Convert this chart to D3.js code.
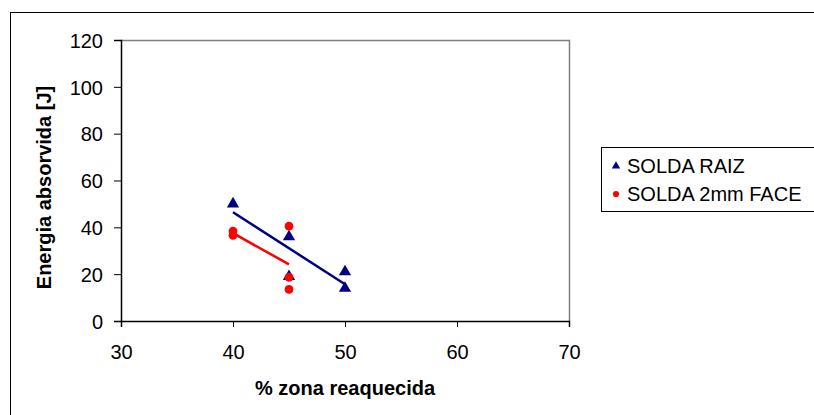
<!DOCTYPE html>
<html>
<head>
<meta charset="utf-8">
<script src="https://cdn.jsdelivr.net/npm/d3@7"></script>
<style>
  body { margin: 0; background: #fff; }
  svg { font-family: "Liberation Sans", Arial, sans-serif; }
</style>
</head>
<body>
<svg class="chart"></svg>
<script>
// data
var raizX = [40, 45, 45, 50, 50];
var raizY = [50, 36, 19, 21, 14];
var faceX = [40, 40, 45, 45, 45];
var faceY = [38.4, 36.6, 40.5, 18.6, 13.5];
var xTicks = [30, 40, 50, 60, 70];
var yTicks = [0, 20, 40, 60, 80, 100, 120];
var seriesNames = ["SOLDA RAIZ", "SOLDA 2mm FACE"];

var W = 814, H = 415;
var plot = { left: 121, top: 40, right: 569, bottom: 321 };

var svg = d3.select(".chart").attr("width", W).attr("height", H);

// outer chart frame
svg.append("rect")
    .attr("x", 10.5).attr("y", 12.5)
    .attr("width", W).attr("height", H)
    .attr("fill", "#fff").attr("stroke", "#000").attr("stroke-width", 1);

var x = d3.scaleLinear().domain([30, 70]).range([plot.left, plot.right]);
var y = d3.scaleLinear().domain([0, 120]).range([plot.bottom, plot.top]);

// plot area border (grey top/right)
svg.append("path")
    .attr("d", "M" + plot.left + "," + (plot.top + 0.5) + "H" + (plot.right + 0.5) + "V" + plot.bottom)
    .attr("fill", "none").attr("stroke", "#808080").attr("stroke-width", 1.5);

var xAxis = svg.append("g")
    .attr("transform", "translate(0," + plot.bottom + ")")
    .call(d3.axisBottom(x).tickValues(xTicks).tickSize(6).tickPadding(32));
var yAxis = svg.append("g")
    .attr("transform", "translate(" + plot.left + ",0)")
    .call(d3.axisLeft(y).tickValues(yTicks).tickSize(7).tickPadding(11));

[xAxis, yAxis].forEach(function (a) {
    a.select(".domain").attr("stroke", "#000").attr("stroke-width", 1.5);
    a.selectAll(".tick line").attr("stroke", "#000");
    a.selectAll(".tick text")
        .attr("font-size", 20).attr("fill", "#000")
        .style("font-family", "'Liberation Sans', Arial, sans-serif");
});
xAxis.selectAll(".tick text").attr("dy", "0");
yAxis.selectAll(".tick text").attr("dy", "0.36em");

// axis titles
svg.append("text")
    .attr("x", 345).attr("y", 395)
    .attr("text-anchor", "middle")
    .attr("font-size", 20).attr("font-weight", "bold")
    .text("% zona reaquecida");
svg.append("text")
    .attr("transform", "translate(51," + ((plot.top + plot.bottom) / 2 + 7) + ") rotate(-90)")
    .attr("text-anchor", "middle")
    .attr("font-size", 20).attr("font-weight", "bold")
    .text("Energia absorvida [J]");

// linear trend line (least squares, like the spreadsheet trendline)
function fit(xs, ys) {
    var mx = d3.mean(xs), my = d3.mean(ys);
    var sxy = d3.sum(xs, function (v, i) { return (v - mx) * (ys[i] - my); });
    var sxx = d3.sum(xs, function (v) { return (v - mx) * (v - mx); });
    var b = sxy / sxx;
    var x0 = d3.min(xs), x1 = d3.max(xs);
    return [[x0, my + b * (x0 - mx)], [x1, my + b * (x1 - mx)]];
}

var line = d3.line().x(function (d) { return x(d[0]); }).y(function (d) { return y(d[1]); });

var series = [
    { xs: raizX, ys: raizY, color: "#000080", shape: d3.symbolTriangle, size: 65 },
    { xs: faceX, ys: faceY, color: "#ff0000", shape: d3.symbolCircle, size: 60 }
];

series.forEach(function (s) {
    svg.append("path")
        .attr("d", line(fit(s.xs, s.ys)))
        .attr("fill", "none").attr("stroke", s.color).attr("stroke-width", 2.5);
});

series.forEach(function (s) {
    var sym = d3.symbol().type(s.shape).size(s.size);
    svg.selectAll(null).data(s.xs).enter().append("path")
        .attr("d", sym)
        .attr("transform", function (d, i) { return "translate(" + x(d) + "," + y(s.ys[i]) + ")"; })
        .attr("fill", s.color);
});

// legend
var lg = svg.append("g");
lg.append("rect")
    .attr("x", 601.5).attr("y", 147.5).attr("width", 240).attr("height", 64)
    .attr("fill", "#fff").attr("stroke", "#000").attr("stroke-width", 1);
seriesNames.forEach(function (name, i) {
    var cy = 166 + i * 28;
    lg.append("path")
        .attr("d", d3.symbol().type(series[i].shape).size(30))
        .attr("transform", "translate(616," + cy + ")")
        .attr("fill", series[i].color);
    lg.append("text")
        .attr("x", 627).attr("y", cy).attr("dy", "0.36em")
        .attr("font-size", 20)
        .text(name);
});
</script>
</body>
</html>
